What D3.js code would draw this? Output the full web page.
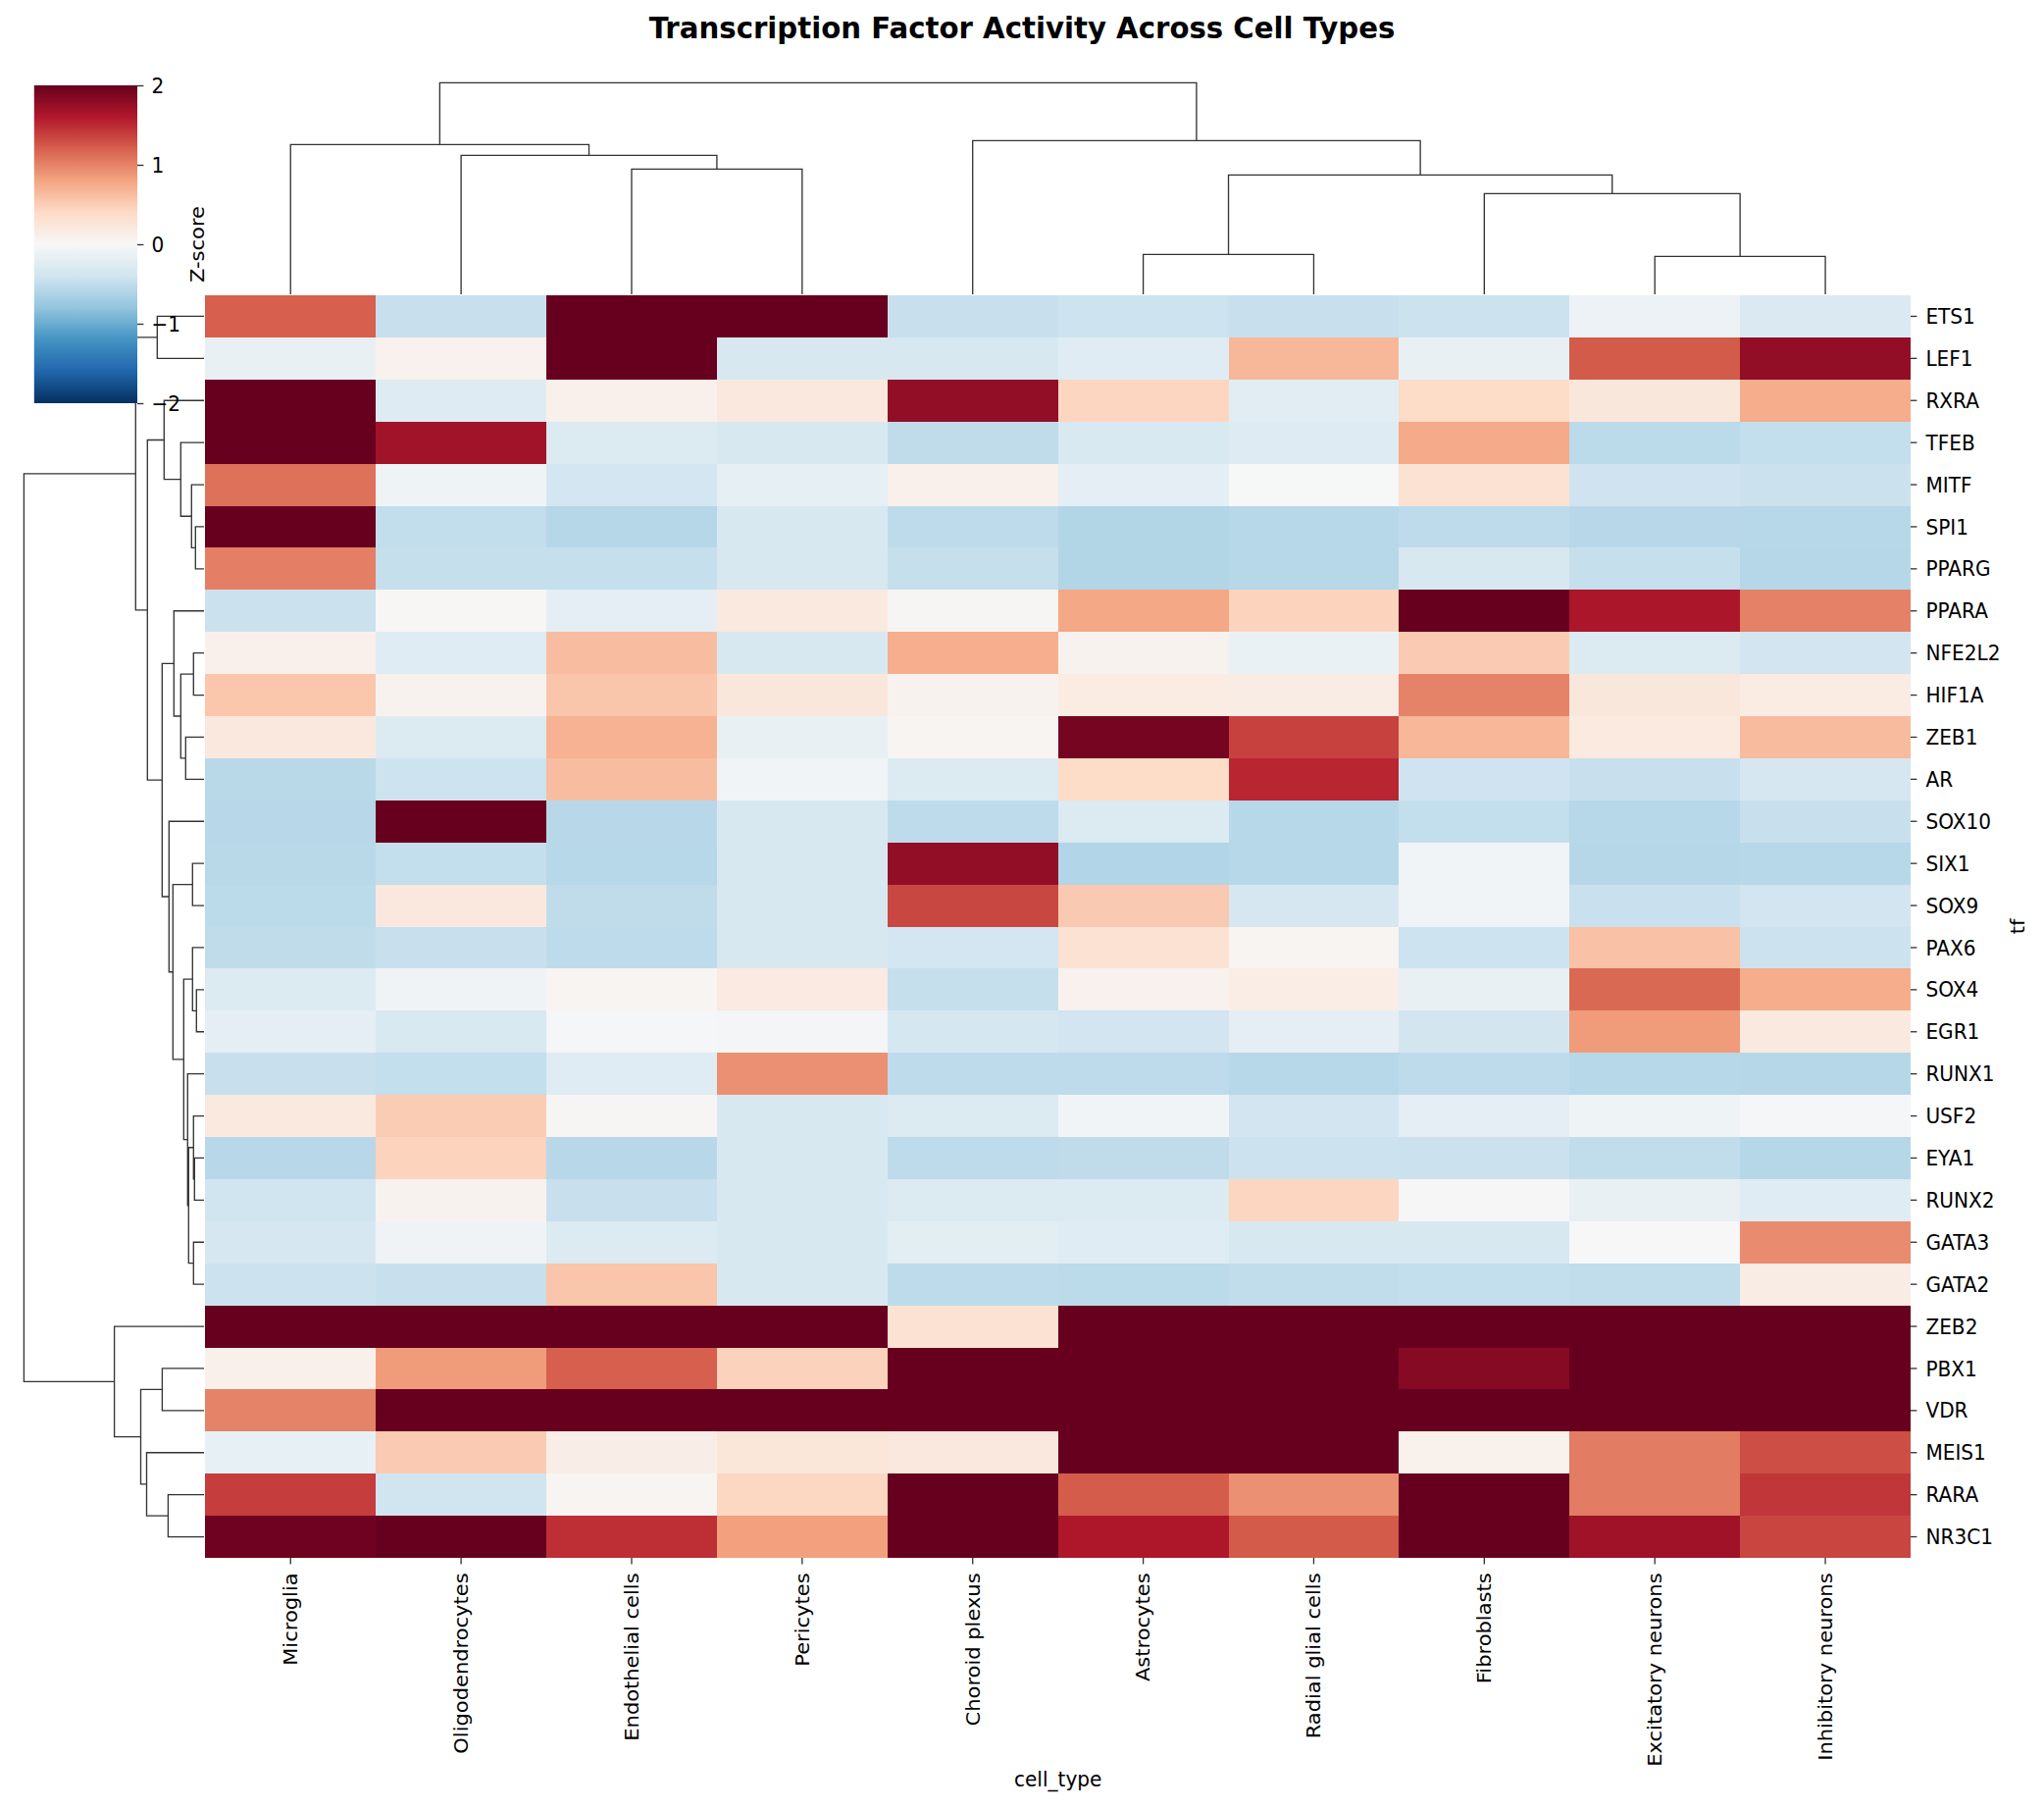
<!DOCTYPE html>
<html>
<head>
<meta charset="utf-8">
<script src="https://cdn.jsdelivr.net/npm/d3@7"></script>
<style>
  html, body { margin: 0; padding: 0; background: #fff; }
  text { font-family: "DejaVu Sans", sans-serif; fill: #000; }
</style>
</head>
<body>
<div id="chart"></div>
<script>
var cellTypes = ["Microglia", "Oligodendrocytes", "Endothelial cells", "Pericytes", "Choroid plexus",
  "Astrocytes", "Radial glial cells", "Fibroblasts", "Excitatory neurons", "Inhibitory neurons"];

var tfs = ["ETS1", "LEF1", "RXRA", "TFEB", "MITF", "SPI1", "PPARG", "PPARA", "NFE2L2", "HIF1A",
  "ZEB1", "AR", "SOX10", "SIX1", "SOX9", "PAX6", "SOX4", "EGR1", "RUNX1", "USF2",
  "EYA1", "RUNX2", "GATA3", "GATA2", "ZEB2", "PBX1", "VDR", "MEIS1", "RARA", "NR3C1"];

// z-scores, one row per tf, columns in cellTypes order
var zScores = [
  [1.2, -.46, 2, 2, -.46, -.425, -.457, -.43, -.115, -.295],
  [-.147, .08, 2, -.337, -.337, -.25, .66, -.15, 1.23, 1.77],
  [2, -.26, .1, .21, 1.77, .44, -.22, .39, .23, .74],
  [2, 1.69, -.285, -.33, -.51, -.32, -.26, .76, -.54, -.49],
  [1.1, -.095, -.37, -.18, .1, -.19, -.01, .3, -.41, -.44],
  [2, -.495, -.57, -.34, -.52, -.59, -.565, -.53, -.56, -.565],
  [1.02, -.476, -.476, -.34, -.47, -.59, -.565, -.34, -.47, -.57],
  [-.44, .02, -.19, .2, .03, .78, .46, 2, 1.63, 1.01],
  [.1, -.25, .62, -.33, .73, .07, -.14, .52, -.285, -.39],
  [.55, .07, .56, .23, .07, .17, .16, 1.0, .23, .17],
  [.21, -.285, .7, -.15, .04, 1.92, 1.37, .67, .19, .64],
  [-.55, -.425, .62, -.07, -.285, .39, 1.52, -.41, -.46, -.35],
  [-.56, 2, -.56, -.34, -.52, -.285, -.565, -.49, -.565, -.46],
  [-.55, -.49, -.565, -.34, 1.77, -.6, -.565, -.07, -.575, -.565],
  [-.54, .21, -.51, -.34, 1.34, .53, -.35, -.07, -.45, -.39],
  [-.51, -.46, -.52, -.34, -.37, .3, .05, -.425, .59, -.43],
  [-.285, -.085, .04, .18, -.47, .08, .14, -.15, 1.15, .74],
  [-.19, -.32, -.02, -.04, -.36, -.39, -.19, -.38, .85, .2],
  [-.46, -.49, -.24, .92, -.52, -.53, -.565, -.52, -.565, -.575],
  [.2, .51, .03, -.33, -.285, -.07, -.39, -.19, -.095, -.02],
  [-.56, .46, -.56, -.34, -.52, -.51, -.43, -.44, -.5, -.57],
  [-.4, .07, -.46, -.34, -.28, -.28, .44, .01, -.15, -.25],
  [-.35, -.08, -.28, -.34, -.21, -.25, -.33, -.34, 0, .95],
  [-.43, -.46, .56, -.34, -.52, -.54, -.5, -.49, -.5, .16],
  [2, 2, 2, 2, .3, 2, 2, 2, 2, 2],
  [.1, .85, 1.2, .47, 2, 2, 2, 1.83, 2, 2],
  [1.0, 2, 2, 2, 2, 2, 2, 2, 2, 2],
  [-.165, .52, .13, .24, .21, 2, 2, .09, 1.04, 1.3],
  [1.39, -.4, .05, .43, 2, 1.22, .92, 2, 1.04, 1.43],
  [1.96, 2, 1.48, .83, 2, 1.62, 1.23, 2, 1.7, 1.35]
];

// linkage: [left, right, distance]. Strings are leaves, numbers point at an earlier row
var colLinks = [
  ["Endothelial cells", "Pericytes", 12.77],
  ["Oligodendrocytes", 0, 14.17],
  ["Microglia", 1, 15.27],
  ["Astrocytes", "Radial glial cells", 4.07],
  ["Excitatory neurons", "Inhibitory neurons", 3.87],
  ["Fibroblasts", 4, 10.27],
  [3, 5, 12.17],
  ["Choroid plexus", 6, 15.67],
  [2, 7, 21.57]
];

var rowLinks = [
  ["ETS1", "LEF1", 4.77],
  ["SPI1", "PPARG", .87],
  ["MITF", 1, 1.27],
  ["TFEB", 2, 2.37],
  ["RXRA", 3, 4.07],
  ["NFE2L2", "HIF1A", 1.07],
  ["ZEB1", "AR", 1.87],
  [5, 6, 2.37],
  ["PPARA", 7, 3.07],
  ["SIX1", "SOX9", 1.17],
  ["SOX4", "EGR1", .77],
  ["PAX6", 10, 1.17],
  ["EYA1", "RUNX2", .97],
  ["USF2", 12, 1.07],
  ["GATA3", "GATA2", 1.07],
  [13, 14, 1.57],
  ["RUNX1", 15, 1.67],
  [11, 16, 2.07],
  [9, 17, 3.17],
  ["SOX10", 18, 3.57],
  [8, 19, 4.27],
  [4, 20, 5.77],
  [0, 21, 6.97],
  ["PBX1", "VDR", 4.26],
  ["RARA", "NR3C1", 3.66],
  ["MEIS1", 24, 5.85],
  [23, 25, 6.45],
  ["ZEB2", 26, 9.14],
  [22, 27, 18.36]
];

var cbarTicks = [-2, -1, 0, 1, 2];

var width = 2084, height = 1843;
var heat = { left: 209.3, right: 1948, top: 301, bottom: 1588 };
var cbar = { left: 34.8, right: 140, top: 87, bottom: 411 };
var lineColor = "#333333";
var fontSize = 20.1;
var titleSize = 29.2;
var stretch = 1.045; // the reference text is a bit taller than it is wide
var tickLen = 6.4;

var svg = d3.select("#chart").append("svg")
  .attr("width", width)
  .attr("height", height)
  .style("display", "block");

// matplotlib's RdBu_r
var rdbu = ["#053061", "#2166ac", "#4393c3", "#92c5de", "#d1e5f0", "#f7f7f7", "#fddbc7", "#f4a582", "#d6604d", "#b2182b", "#67001f"];
var color = d3.scaleLinear()
  .domain(d3.range(rdbu.length).map(i => -2 + 4 * i / (rdbu.length - 1)))
  .range(rdbu)
  .clamp(true);

var x = d3.scaleBand().domain(cellTypes).range([heat.left, heat.right]);
var y = d3.scaleBand().domain(tfs).range([heat.top, heat.bottom]);

// Heatmap
var cells = [];
tfs.forEach((tf, i) => {
  cellTypes.forEach((cell, j) => {
    cells.push({ tf: tf, cell: cell, value: zScores[i][j] });
  });
});

svg.append("g")
  .attr("shape-rendering", "crispEdges")
  .selectAll("rect")
  .data(cells)
  .enter().append("rect")
  .attr("x", d => x(d.cell))
  .attr("y", d => y(d.tf))
  .attr("width", x.bandwidth())
  .attr("height", y.bandwidth())
  .attr("fill", d => color(d.value));

// Heatmap axes
var xAxis = svg.append("g")
  .attr("transform", `translate(0,${heat.bottom})`)
  .call(d3.axisBottom(x).tickSize(tickLen).tickSizeOuter(0));
xAxis.select(".domain").remove();
xAxis.selectAll("line").attr("stroke", lineColor).attr("stroke-width", 1.33);
xAxis.selectAll("text")
  .attr("font-size", fontSize)
  .attr("font-family", "DejaVu Sans")
  .attr("transform", `rotate(-90) scale(${stretch},1)`)
  .attr("text-anchor", "end")
  .attr("dy", "0.34em")
  .attr("x", -(tickLen + 9) / stretch)
  .attr("y", 0);

var yAxis = svg.append("g")
  .attr("transform", `translate(${heat.right},0)`)
  .call(d3.axisRight(y).tickSize(tickLen).tickSizeOuter(0));
yAxis.select(".domain").remove();
yAxis.selectAll("line").attr("stroke", lineColor).attr("stroke-width", 1.33);
yAxis.selectAll("text")
  .attr("font-size", fontSize)
  .attr("font-family", "DejaVu Sans")
  .attr("transform", `scale(1,${stretch})`)
  .attr("x", tickLen + 9)
  .attr("dy", "0.36em");

// Dendrograms
function buildNodes(links, leafPos) {
  var nodes = [];
  links.forEach((link) => {
    var a = typeof link[0] === "string" ? { pos: leafPos(link[0]), dist: 0 } : nodes[link[0]];
    var b = typeof link[1] === "string" ? { pos: leafPos(link[1]), dist: 0 } : nodes[link[1]];
    nodes.push({ a: a, b: b, dist: link[2], pos: (a.pos + b.pos) / 2 });
  });
  return nodes;
}

var colNodes = buildNodes(colLinks, d => x(d) + x.bandwidth() / 2);
var colDist = d3.scaleLinear().domain([0, d3.max(colLinks, d => d[2])]).range([300, 84.3]);
var topPath = d3.path();
colNodes.forEach((n) => {
  topPath.moveTo(n.a.pos, colDist(n.a.dist));
  topPath.lineTo(n.a.pos, colDist(n.dist));
  topPath.lineTo(n.b.pos, colDist(n.dist));
  topPath.lineTo(n.b.pos, colDist(n.b.dist));
});

var rowNodes = buildNodes(rowLinks, d => y(d) + y.bandwidth() / 2);
var rowDist = d3.scaleLinear().domain([0, d3.max(rowLinks, d => d[2])]).range([208, 24.4]);
var leftPath = d3.path();
rowNodes.forEach((n) => {
  leftPath.moveTo(rowDist(n.a.dist), n.a.pos);
  leftPath.lineTo(rowDist(n.dist), n.a.pos);
  leftPath.lineTo(rowDist(n.dist), n.b.pos);
  leftPath.lineTo(rowDist(n.b.dist), n.b.pos);
});

[topPath, leftPath].forEach((p) => {
  svg.append("path")
    .attr("d", p.toString())
    .attr("fill", "none")
    .attr("stroke", lineColor)
    .attr("stroke-width", 1.33);
});

// Colorbar
var cbarScale = d3.scaleLinear().domain([-2, 2]).range([cbar.bottom, cbar.top]);
var gradient = svg.append("defs").append("linearGradient")
  .attr("id", "cbar-gradient")
  .attr("x1", 0).attr("y1", 1).attr("x2", 0).attr("y2", 0);
color.domain().forEach((d) => {
  gradient.append("stop")
    .attr("offset", (d + 2) / 4)
    .attr("stop-color", color(d));
});

svg.append("rect")
  .attr("x", cbar.left)
  .attr("y", cbar.top)
  .attr("width", cbar.right - cbar.left)
  .attr("height", cbar.bottom - cbar.top)
  .attr("fill", "url(#cbar-gradient)");

var cbarAxis = svg.append("g")
  .attr("transform", `translate(${cbar.right},0)`)
  .call(d3.axisRight(cbarScale).tickValues(cbarTicks).tickSize(tickLen).tickFormat(d3.format("d")));
cbarAxis.select(".domain").remove();
cbarAxis.selectAll("line").attr("stroke", lineColor).attr("stroke-width", 1.33);
cbarAxis.selectAll("text")
  .attr("font-size", fontSize)
  .attr("font-family", "DejaVu Sans")
  .attr("transform", `scale(1,${stretch})`)
  .attr("x", tickLen + 8)
  .attr("dy", "0.36em")
  .text(d => d < 0 ? "\u2212" + Math.abs(d) : d);

// Titles
svg.append("text")
  .attr("transform", `translate(207.5,${(cbar.top + cbar.bottom) / 2}) rotate(-90) scale(${stretch},1)`)
  .attr("text-anchor", "middle")
  .attr("font-size", fontSize)
  .text("Z-score");

svg.append("text")
  .attr("transform", `translate(${(heat.left + heat.right) / 2},1821) scale(1,${stretch})`)
  .attr("text-anchor", "middle")
  .attr("font-size", fontSize)
  .text("cell_type");

svg.append("text")
  .attr("transform", `translate(2064,${(heat.top + heat.bottom) / 2}) rotate(-90) scale(${stretch},1)`)
  .attr("text-anchor", "middle")
  .attr("font-size", fontSize)
  .text("tf");

svg.append("text")
  .attr("transform", `translate(1042,39) scale(1,${stretch})`)
  .attr("text-anchor", "middle")
  .attr("font-size", titleSize)
  .attr("font-weight", "bold")
  .text("Transcription Factor Activity Across Cell Types");
</script>
</body>
</html>
